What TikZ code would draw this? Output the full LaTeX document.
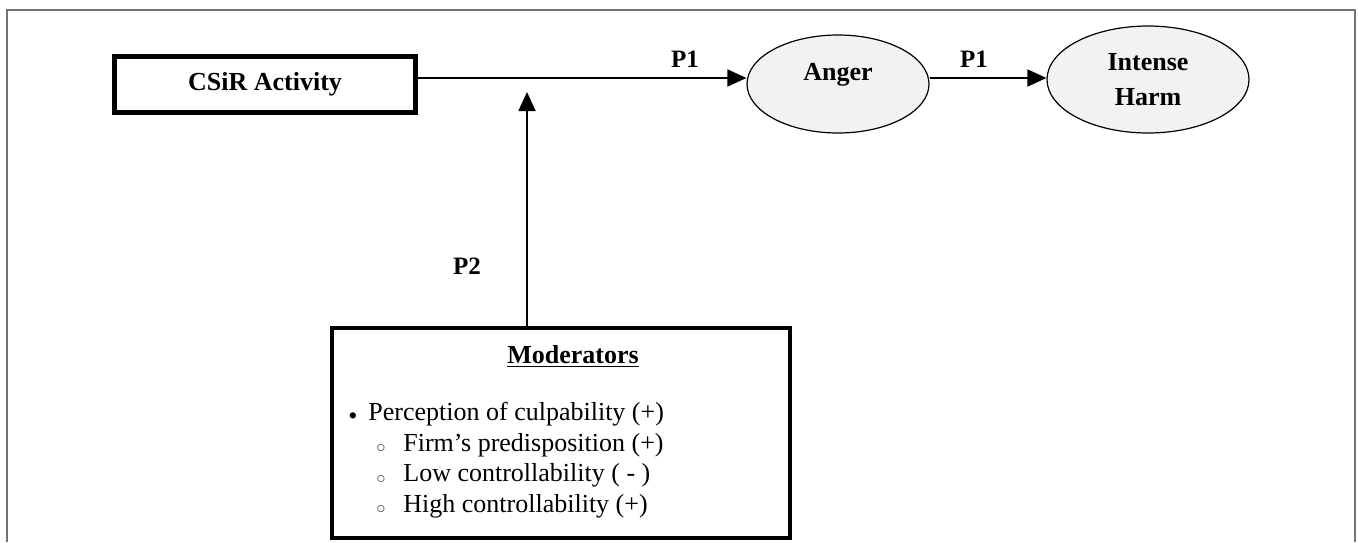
\documentclass[tikz,border=0pt]{standalone}
\usepackage{fontspec}
\setmainfont{Liberation Serif}
\usetikzlibrary{arrows.meta,shapes.geometric}

\tikzset{
  box/.style={draw, line width=2.2pt, inner sep=0pt},
  emotion/.style={ellipse, draw, line width=0.6pt, fill=black!5, inner sep=0pt,
    font=\fontsize{13}{17.5}\selectfont\bfseries},
  link/.style={-{Triangle[length=9.5pt,width=8.5pt]}, line width=0.9pt},
  plabel/.style={inner sep=0pt, font=\fontsize{12.5}{15}\selectfont\bfseries},
  item/.style={anchor=base west, inner sep=0pt, font=\fontsize{13}{15.5}\selectfont},
  dotmark/.style={inner sep=0pt, font=\fontsize{13}{13}\selectfont},
  ringmark/.style={inner sep=0pt, text=black!70, font=\fontsize{13}{13}\selectfont},
  frame/.style={draw=black!55, line width=1pt}
}

\begin{document}
\begin{tikzpicture}[x=0.5pt, y=-0.5pt]
        \useasboundingbox (0,0) rectangle (1358,542);
        \draw[frame] (7,542) -- (7,10) -- (1355,10) -- (1355,542);

        % model
        \node[box, minimum width=150.5pt, minimum height=28pt,
              font=\fontsize{13}{15}\selectfont\bfseries] (csir) at (265,84.5) {CSiR Activity};
        \node[emotion, minimum width=91pt, minimum height=49pt,
              text height=9pt, text depth=13pt] (anger) at (838,84) {Anger};
        \node[emotion, minimum width=101pt, minimum height=53.5pt, align=center] (harm) at (1148,79.5) {Intense\\Harm};

        \draw[link] ([yshift=3.25pt]csir.east) -- ([yshift=3pt]anger.west);
        \draw[link] ([yshift=3pt]anger.east) -- ([yshift=0.75pt]harm.west);
        \node[plabel] (p1a) at (685,59) {P1};
        \node[plabel] (p1b) at (974,59) {P1};

        % moderators
        \node[box, minimum width=229pt, minimum height=105pt] (mod) at (561,433) {};
        \coordinate (modtip) at (527,92);
        \draw[link] (mod.north -| modtip) -- (modtip);
        \node[plabel] (p2) at (467,266) {P2};

        \node[item, anchor=base, font=\fontsize{13}{15.5}\selectfont\bfseries] (modtitle) at (573,363) {\underline{Moderators}};
        \node[dotmark] (b1) at (353,419) {•};
        \node[item] (i1) at (368,420) {Perception of culpability (+)};
        \node[ringmark] (b1a) at (381,448) {$\scriptstyle\circ$};
        \node[item] (i1a) at (403,451) {Firm’s predisposition (+)};
        \node[ringmark] (b1b) at (381,479) {$\scriptstyle\circ$};
        \node[item] (i1b) at (403,481) {Low controllability ( - )};
        \node[ringmark] (b1c) at (381,509) {$\scriptstyle\circ$};
        \node[item] (i1c) at (403,512) {High controllability (+)};

    \end{tikzpicture}
\end{document}
